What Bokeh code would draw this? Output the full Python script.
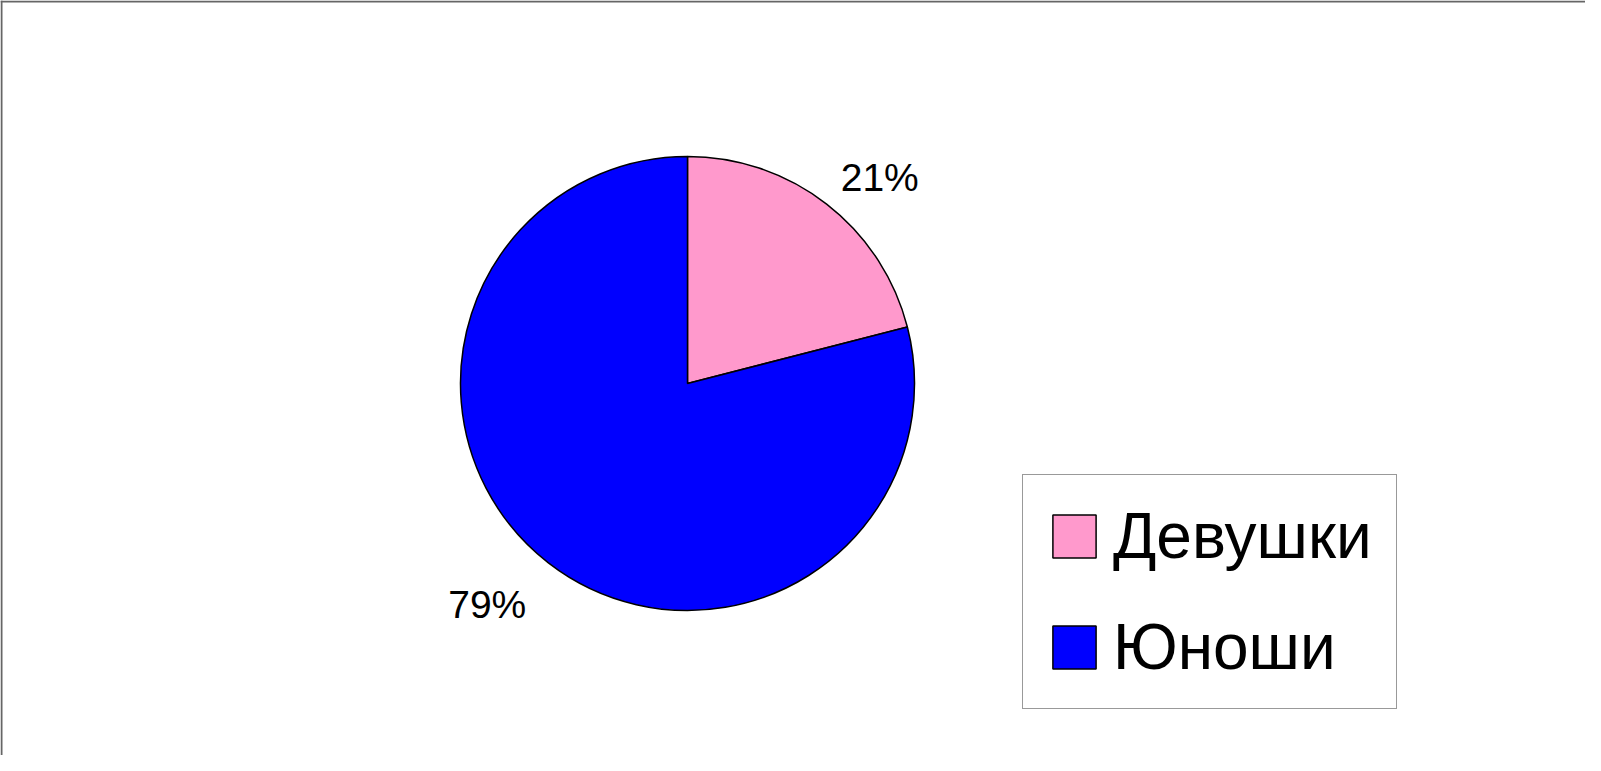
import math
from bokeh.plotting import figure
from bokeh.models import ColumnDataSource, Range1d, Span, Legend, LegendItem
from bokeh.core.properties import value
from bokeh.embed import file_html
from bokeh.resources import INLINE

# ---- data ----
categories = ["Девушки", "Юноши"]
shares = [21, 79]
colors = ["#FF99CC", "#0000FF"]
labels = ["21%", "79%"]

W, H = 1585, 755
CX, CY, R = 687, 372, 227  # pie centre / radius in canvas units

total = sum(shares)
starts, ends, mids = [], [], []
# Excel-style: first slice starts at 12 o'clock and runs clockwise
cur = math.pi / 2
for s in shares:
    sweep = 2 * math.pi * s / total
    ends.append(cur)
    starts.append(cur - sweep)
    mids.append(cur - sweep / 2)
    cur -= sweep

src = ColumnDataSource(dict(cat=categories, start=starts, end=ends, color=colors))

p = figure(width=W, height=H, x_range=Range1d(0, W), y_range=Range1d(0, H),
           output_backend="svg", toolbar_location=None, min_border=0)
p.axis.visible = False
p.grid.visible = False
p.outline_line_color = None
p.background_fill_color = "white"
p.border_fill_color = "white"

r = p.wedge(x=CX, y=CY, radius=R, start_angle="start", end_angle="end",
            fill_color="color", line_color="black", line_width=1.5, source=src)

# percentage labels placed outside along each slice's mid angle
lx, ly, al, bl = [], [], [], []
for m in mids:
    d = R * 1.13
    lx.append(CX + d * math.cos(m) - 4)
    ly.append(CY + d * math.sin(m) + 3)
    al.append("left" if math.cos(m) >= 0 else "right")
    bl.append("alphabetic" if math.sin(m) >= 0 else "top")
lsrc = ColumnDataSource(dict(x=lx, y=ly, t=labels, a=al, b=bl))
p.text(x="x", y="y", text="t", text_align="a", text_baseline="b",
       text_font=value("Liberation Sans"), text_font_size="39px",
       text_color="black", source=lsrc)

legend = Legend(items=[LegendItem(label=c, renderers=[r], index=i)
                       for i, c in enumerate(categories)],
                location=(1022, 46), margin=0, padding=24, spacing=37,
                glyph_width=54, glyph_height=54, label_standoff=12,
                label_text_font="Liberation Sans", label_text_font_size="64px",
                label_text_color="black",
                border_line_color="#333333", border_line_width=1,
                background_fill_color="white", background_fill_alpha=1.0)
p.add_layout(legend, "center")

# outer chart-area border (top and left edges visible)
p.add_layout(Span(location=1, dimension="height", line_color="#666666", line_width=2))
p.add_layout(Span(location=H - 1, dimension="width", line_color="#666666", line_width=2))

open("out.html", "w").write(file_html(p, INLINE))
